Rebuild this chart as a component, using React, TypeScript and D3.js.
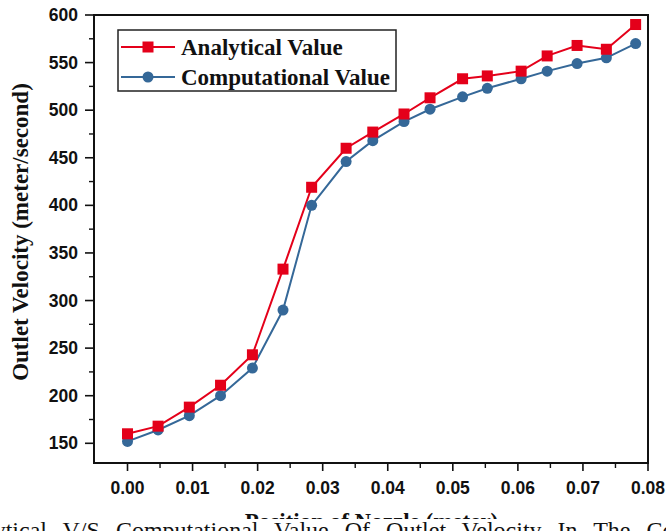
import React from "react";
import * as d3 from "d3";

const positions = [0, 0.0047, 0.0095, 0.0143, 0.0192, 0.0239, 0.0283, 0.0336, 0.0377, 0.0425, 0.0465, 0.0515, 0.0553, 0.0605, 0.0645, 0.0691, 0.0736, 0.0781];
const analytical = [160, 168, 188, 211, 243, 333, 419, 460, 477, 496, 513, 533, 536, 541, 557, 568, 564, 590];
const computational = [152, 164, 179, 200, 229, 290, 400, 446, 468, 488, 501, 514, 523, 533, 541, 549, 555, 570];
const xTicks = [0, 0.01, 0.02, 0.03, 0.04, 0.05, 0.06, 0.07, 0.08];
const xMinor = [0.005, 0.015, 0.025, 0.035, 0.045, 0.055, 0.065, 0.075];
const yTicks = [150, 200, 250, 300, 350, 400, 450, 500, 550, 600];
const yMinor = [175, 225, 275, 325, 375, 425, 475, 525, 575];
const seriesNames = ["Analytical Value", "Computational Value"];
const xTitle = "Position of Nozzle (meter)";
const yTitle = "Outlet Velocity (meter/second)";
const caption = "Analytical V/S Computational Value Of Outlet Velocity In The Convergent Divergent Nozzle";

const RED = "#e4001a";
const BLUE = "#356898";

export default function App() {
  const W = 666, H = 531;
  const L = 94, R = 648, T = 15, B = 463;
  const x = d3.scaleLinear().domain([-0.00515, 0.08]).range([L, R]);
  const y = d3.scaleLinear().domain([129.3, 600]).range([B, T]);
  const line = d3.line<number>().x((_, i) => x(positions[i])).y((d) => y(d));
  const sans = "'Liberation Sans', Arial, sans-serif";
  const serif = "'Liberation Serif', 'Times New Roman', serif";

  return (
    <svg width={W} height={H} style={{ position: "fixed", left: 0, top: 0, background: "#fff" }}>
      <defs>
        <clipPath id="titleClip">
          <rect x={0} y={0} width={W} height={519} />
        </clipPath>
      </defs>
      <rect x={0} y={0} width={W} height={H} fill="#fff" />
      {/* frame */}
      <rect x={L} y={T} width={R - L} height={B - T} fill="none" stroke="#111" strokeWidth={2} />
      {/* x ticks */}
      {xTicks.map((t) => (
        <g key={"xt" + t}>
          <line x1={x(t)} x2={x(t)} y1={B} y2={B + 8} stroke="#111" strokeWidth={1.6} />
          <text x={x(t)} y={494} textAnchor="middle" fontFamily={sans} fontWeight="bold" fontSize={17.5} fill="#111">
            {t.toFixed(2)}
          </text>
        </g>
      ))}
      {xMinor.map((t) => (
        <line key={"xm" + t} x1={x(t)} x2={x(t)} y1={B} y2={B + 5} stroke="#111" strokeWidth={1.4} />
      ))}
      {/* y ticks */}
      {yTicks.map((t) => (
        <g key={"yt" + t}>
          <line x1={L - 9} x2={L} y1={y(t)} y2={y(t)} stroke="#111" strokeWidth={1.6} />
          <text x={78} y={y(t) + 6} textAnchor="end" fontFamily={sans} fontWeight="bold" fontSize={17.5} fill="#111">
            {t}
          </text>
        </g>
      ))}
      {yMinor.map((t) => (
        <line key={"ym" + t} x1={L - 5} x2={L} y1={y(t)} y2={y(t)} stroke="#111" strokeWidth={1.4} />
      ))}
      {/* series */}
      <path d={line(computational) || ""} fill="none" stroke={BLUE} strokeWidth={2} />
      <path d={line(analytical) || ""} fill="none" stroke={RED} strokeWidth={2} />
      {computational.map((v, i) => (
        <circle key={"c" + i} cx={x(positions[i])} cy={y(v)} r={5.5} fill={BLUE} />
      ))}
      {analytical.map((v, i) => (
        <rect key={"s" + i} x={x(positions[i]) - 5.5} y={y(v) - 5.5} width={11} height={11} fill={RED} />
      ))}
      {/* legend */}
      <rect x={118} y={30} width={278} height={61} fill="#fff" stroke="#222" strokeWidth={1.5} />
      <line x1={121} x2={175} y1={47} y2={47} stroke={RED} strokeWidth={2} />
      <rect x={148 - 5.5} y={47 - 5.5} width={11} height={11} fill={RED} />
      <line x1={121} x2={175} y1={77} y2={77} stroke={BLUE} strokeWidth={2} />
      <circle cx={148} cy={77} r={5.5} fill={BLUE} />
      <text x={181} y={55} fontFamily={serif} fontWeight="bold" fontSize={23} fill="#111">{seriesNames[0]}</text>
      <text x={181} y={85} fontFamily={serif} fontWeight="bold" fontSize={23} fill="#111">{seriesNames[1]}</text>
      {/* axis titles */}
      <text transform={`translate(28,232) rotate(-90)`} textAnchor="middle" fontFamily={serif} fontWeight="bold" fontSize={23} fill="#111">
        {yTitle}
      </text>
      <g clipPath="url(#titleClip)">
        <text x={371.5} y={528.5} textAnchor="middle" fontFamily={serif} fontWeight="bold" fontSize={23} fill="#111">
          {xTitle}
        </text>
      </g>
      {/* caption strip */}
      <text x={-53} y={537.5} fontFamily={serif} fontSize={24} wordSpacing={10} fill="#111">{caption}</text>
    </svg>
  );
}
